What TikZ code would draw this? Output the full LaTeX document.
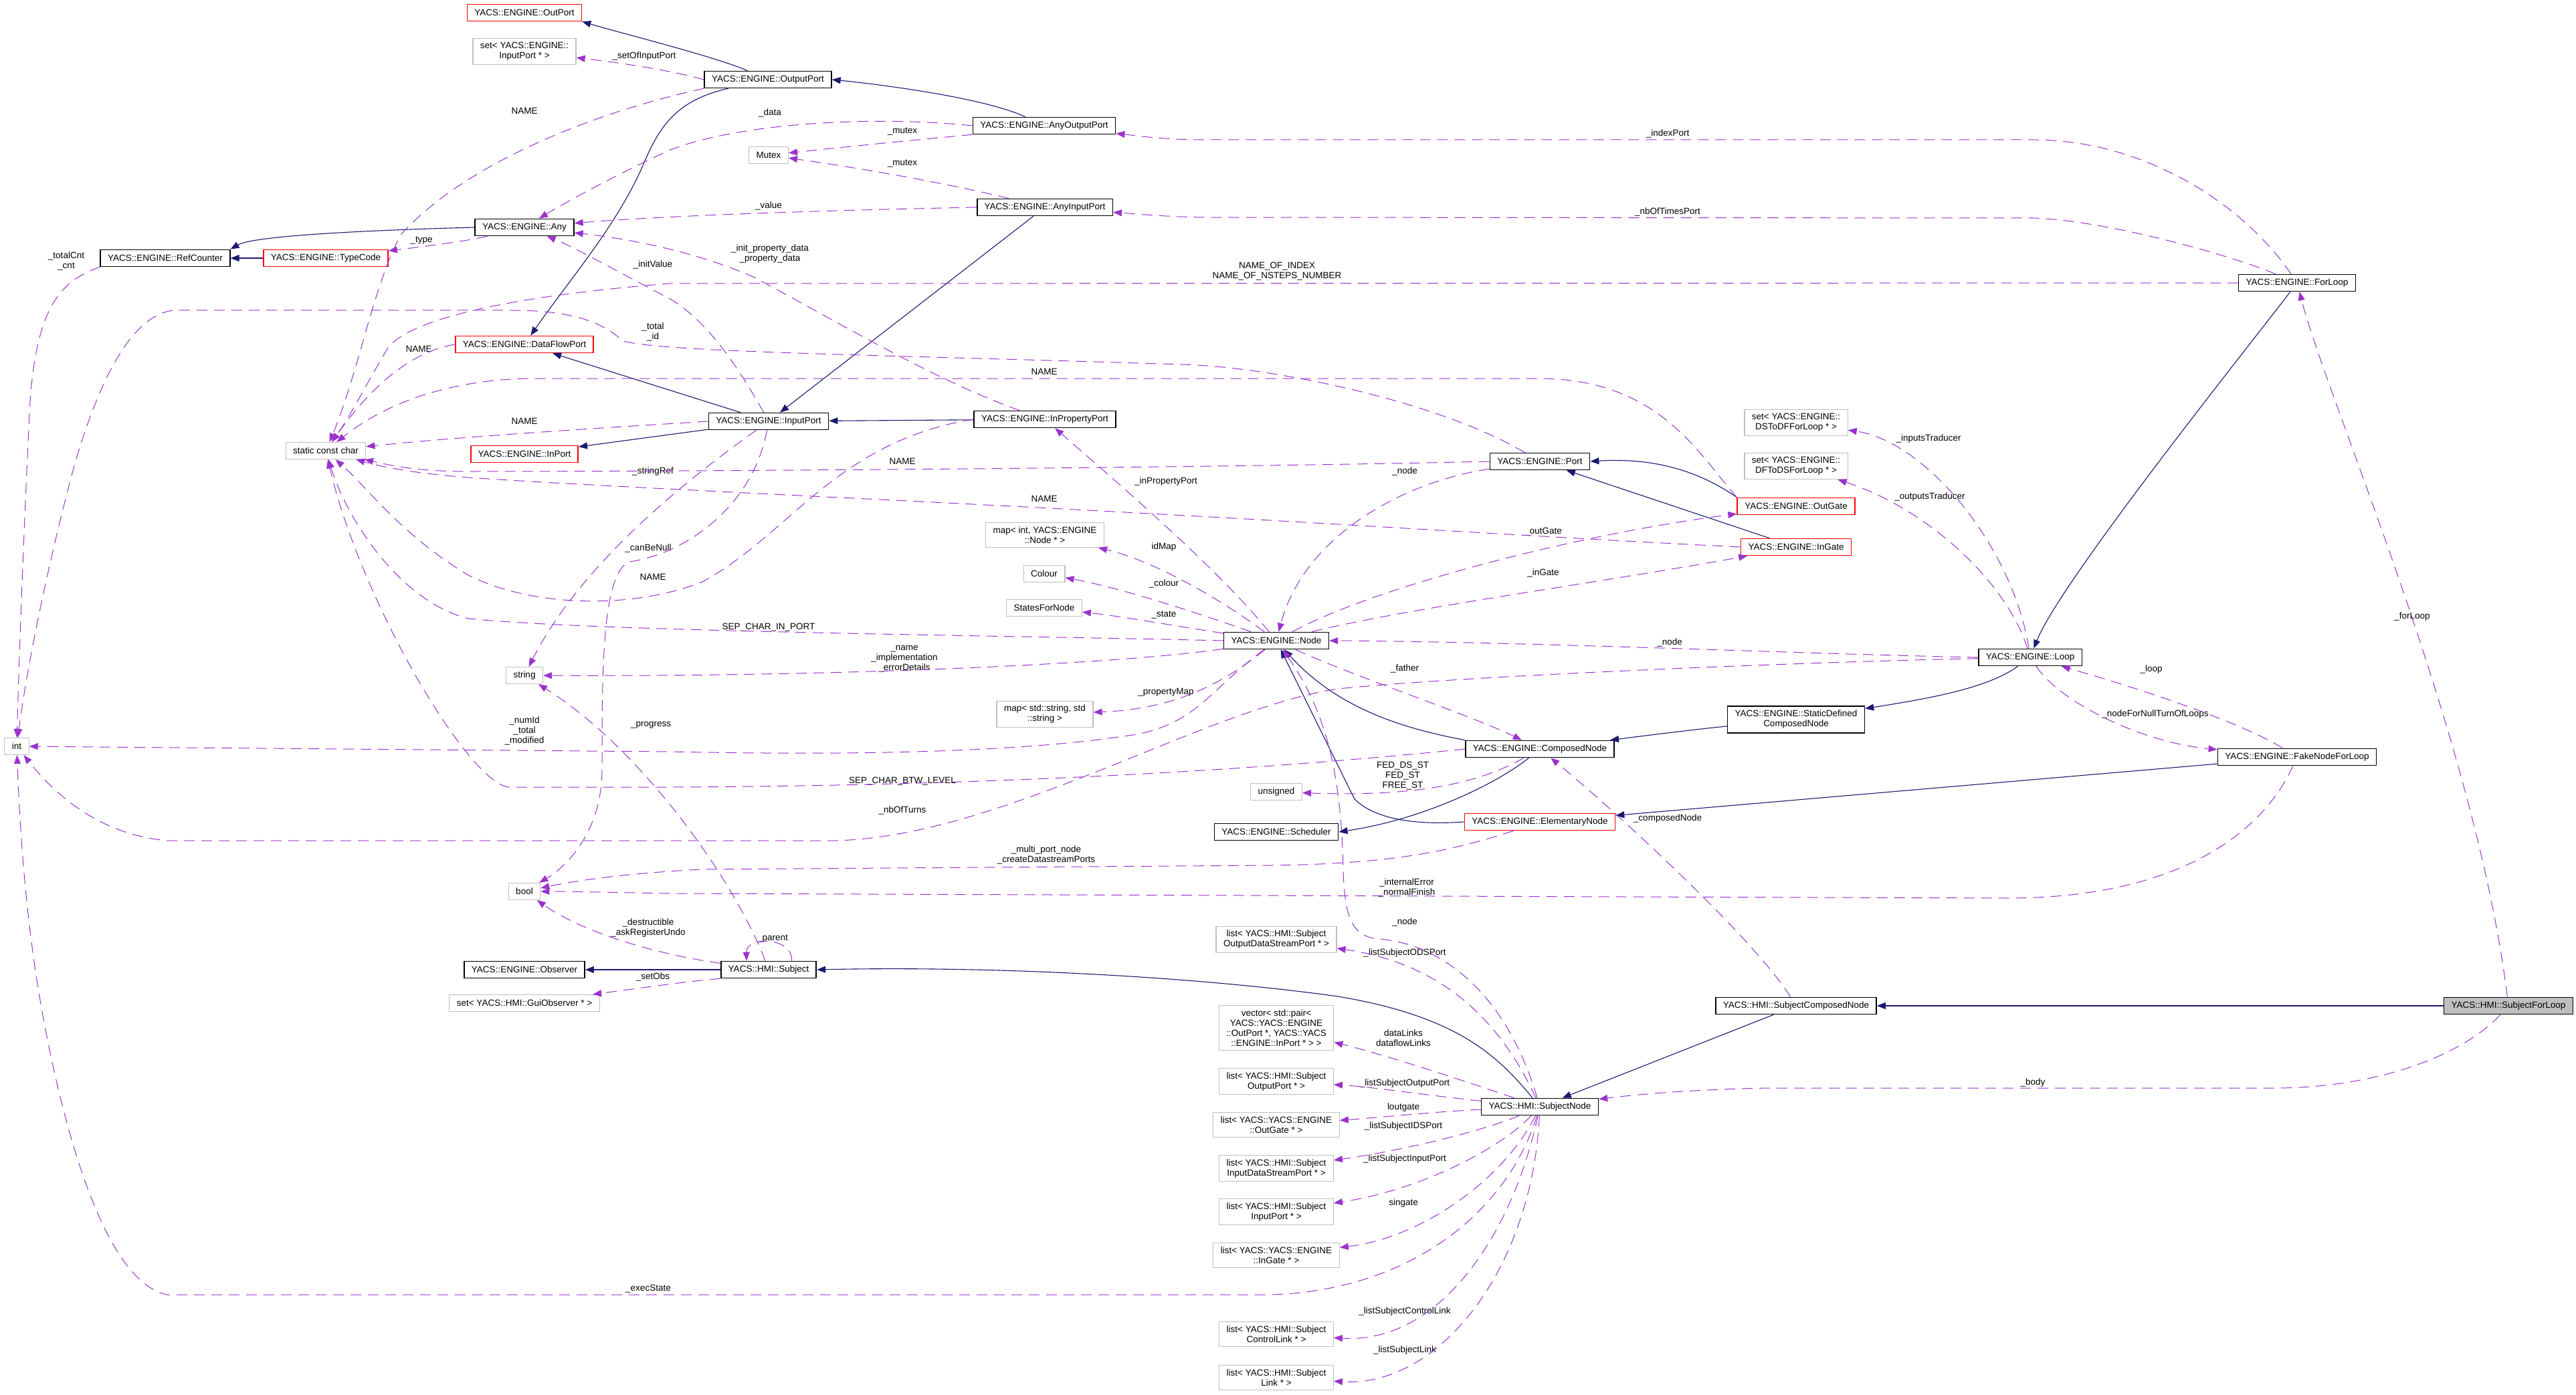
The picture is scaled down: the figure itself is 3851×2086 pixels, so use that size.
\documentclass[tikz,border=0pt]{standalone}
\usepackage{fontspec}
\setmainfont{Liberation Sans}
\usetikzlibrary{arrows.meta}
\definecolor{navyline}{HTML}{191970}
\definecolor{usepurple}{HTML}{9A32CD}
\definecolor{graybox}{HTML}{BFBFBF}
\begin{document}
\begin{tikzpicture}[x=0.5pt, y=-0.5pt,
  every node/.style={font=\fontsize{6.75}{7.5}\selectfont, align=center},
  clsbox/.style={draw=black, line width=0.8pt, inner xsep=5.5pt, inner ysep=3pt, minimum height=12.5pt},
  redbox/.style={clsbox, draw=red},
  extbox/.style={clsbox, draw=graybox, line width=0.6pt},
  selbox/.style={clsbox, fill=graybox},
  edgelbl/.style={inner sep=0pt},
  inhline/.style={draw=navyline, line width=0.55pt, -{Triangle[length=6.5pt, width=5pt]}},
  useline/.style={draw=usepurple, line width=0.5pt, dash pattern=on 8pt off 5pt, -{Triangle[length=6.5pt, width=5pt]}}]
  \useasboundingbox (0,0) rectangle (3851,2086);

  \node[extbox] (tInt) at (25,1116) {int};
  \node[clsbox] (RefCounter) at (247,386) {YACS::ENGINE::RefCounter};
  \node[redbox] (TypeCode) at (487,386) {YACS::ENGINE::TypeCode};
  \node[extbox] (tSconst) at (487,674) {static const char};
  \node[redbox] (OutPort) at (784,19) {YACS::ENGINE::OutPort};
  \node[extbox] (setInputPort) at (784,77) {set< YACS::ENGINE::\\InputPort * >};
  \node[clsbox] (Any) at (784,340) {YACS::ENGINE::Any};
  \node[redbox] (DataFlowPort) at (784,515) {YACS::ENGINE::DataFlowPort};
  \node[redbox] (InPort) at (784,679) {YACS::ENGINE::InPort};
  \node[extbox] (tString) at (784,1010) {string};
  \node[extbox] (tBool) at (784,1333) {bool};
  \node[clsbox] (Observer) at (784,1450) {YACS::ENGINE::Observer};
  \node[extbox] (setGuiObserver) at (784,1500) {set< YACS::HMI::GuiObserver * >};
  \node[clsbox] (OutputPort) at (1148,119) {YACS::ENGINE::OutputPort};
  \node[extbox] (tMutex) at (1149,232) {Mutex};
  \node[clsbox] (InputPort) at (1149,630) {YACS::ENGINE::InputPort};
  \node[clsbox] (Subject) at (1149,1450) {YACS::HMI::Subject};
  \node[clsbox] (AnyOutputPort) at (1561,188) {YACS::ENGINE::AnyOutputPort};
  \node[clsbox] (AnyInputPort) at (1562,310) {YACS::ENGINE::AnyInputPort};
  \node[clsbox] (InPropertyPort) at (1562,627) {YACS::ENGINE::InPropertyPort};
  \node[extbox] (mapIdNode) at (1562,800) {map< int, YACS::ENGINE\\::Node * >};
  \node[extbox] (tColour) at (1561,858) {Colour};
  \node[extbox] (tStates) at (1561,909) {StatesForNode};
  \node[extbox] (mapProps) at (1562,1068) {map< std::string, std\\::string >};
  \node[clsbox] (Node) at (1908,958) {YACS::ENGINE::Node};
  \node[extbox] (tUnsigned) at (1908,1184) {unsigned};
  \node[clsbox] (Scheduler) at (1908,1244) {YACS::ENGINE::Scheduler};
  \node[extbox] (listODSPort) at (1908,1405) {list< YACS::HMI::Subject\\OutputDataStreamPort * >};
  \node[extbox] (vecLinks) at (1908,1537) {vector< std::pair<\\YACS::YACS::ENGINE\\::OutPort *, YACS::YACS\\::ENGINE::InPort * > >};
  \node[extbox] (listOPort) at (1908,1617) {list< YACS::HMI::Subject\\OutputPort * >};
  \node[extbox] (listOGate) at (1908,1682) {list< YACS::YACS::ENGINE\\::OutGate * >};
  \node[extbox] (listIDSPort) at (1908,1747) {list< YACS::HMI::Subject\\InputDataStreamPort * >};
  \node[extbox] (listIPort) at (1908,1812) {list< YACS::HMI::Subject\\InputPort * >};
  \node[extbox] (listIGate) at (1908,1877) {list< YACS::YACS::ENGINE\\::InGate * >};
  \node[extbox] (listCLink) at (1908,1995) {list< YACS::HMI::Subject\\ControlLink * >};
  \node[extbox] (listLink) at (1908,2060) {list< YACS::HMI::Subject\\Link * >};
  \node[clsbox] (Port) at (2302,690) {YACS::ENGINE::Port};
  \node[clsbox] (ComposedNode) at (2302,1120) {YACS::ENGINE::ComposedNode};
  \node[redbox] (ElementaryNode) at (2302,1229) {YACS::ENGINE::ElementaryNode};
  \node[clsbox] (SubjectNode) at (2302,1655) {YACS::HMI::SubjectNode};
  \node[extbox] (setDSToDF) at (2685,632) {set< YACS::ENGINE::\\DSToDFForLoop * >};
  \node[extbox] (setDFToDS) at (2685,697) {set< YACS::ENGINE::\\DFToDSForLoop * >};
  \node[redbox] (OutGate) at (2685,757) {YACS::ENGINE::OutGate};
  \node[redbox] (InGate) at (2685,818) {YACS::ENGINE::InGate};
  \node[clsbox] (StaticComposed) at (2685,1076) {YACS::ENGINE::StaticDefined\\ComposedNode};
  \node[clsbox] (SubjectComposedNode) at (2685,1504) {YACS::HMI::SubjectComposedNode};
  \node[clsbox] (Loop) at (3035,983) {YACS::ENGINE::Loop};
  \node[clsbox] (ForLoop) at (3434,423) {YACS::ENGINE::ForLoop};
  \node[clsbox] (FakeNode) at (3434,1132) {YACS::ENGINE::FakeNodeForLoop};
  \node[selbox] (SubjectForLoop) at (3750,1504) {YACS::HMI::SubjectForLoop};

  \node[edgelbl] (lSetOfInputPort) at (963,84) {\_setOfInputPort};
  \node[edgelbl] (lNameOutput) at (784,166) {NAME};
  \node[edgelbl] (lData) at (1151,169) {\_data};
  \node[edgelbl] (lMutexOut) at (1349,196) {\_mutex};
  \node[edgelbl] (lMutexIn) at (1349,244) {\_mutex};
  \node[edgelbl] (lValue) at (1149,308) {\_value};
  \node[edgelbl] (lType) at (630,360) {\_type};
  \node[edgelbl] (lCnt) at (99,390) {\_totalCnt\\\_cnt};
  \node[edgelbl] (lInitValue) at (976,396) {\_initValue};
  \node[edgelbl] (lPropData) at (1151,380) {\_init\_property\_data\\\_property\_data};
  \node[edgelbl] (lNameDataFlow) at (626,522) {NAME};
  \node[edgelbl] (lNameInput) at (784,630) {NAME};
  \node[edgelbl] (lNamePort) at (1349,690) {NAME};
  \node[edgelbl] (lNameInGate) at (1561,746) {NAME};
  \node[edgelbl] (lNameOutGate) at (1561,556) {NAME};
  \node[edgelbl] (lTotalId) at (976,496) {\_total\\\_id};
  \node[edgelbl] (lNameOfIndex) at (1909,406) {NAME\_OF\_INDEX\\NAME\_OF\_NSTEPS\_NUMBER};
  \node[edgelbl] (lIndexPort) at (2493,200) {\_indexPort};
  \node[edgelbl] (lNbOfTimesPort) at (2493,317) {\_nbOfTimesPort};
  \node[edgelbl] (lForLoop) at (3606,922) {\_forLoop};
  \node[edgelbl] (lBody) at (3039,1619) {\_body};
  \node[edgelbl] (lNodeLoop) at (2496,961) {\_node};
  \node[edgelbl] (lNbOfTurns) at (1349,1212) {\_nbOfTurns};
  \node[edgelbl] (lInputsTraducer) at (2883,656) {\_inputsTraducer};
  \node[edgelbl] (lOutputsTraducer) at (2885,743) {\_outputsTraducer};
  \node[edgelbl] (lNullTurn) at (3222,1068) {\_nodeForNullTurnOfLoops};
  \node[edgelbl] (lLoop) at (3216,1001) {\_loop};
  \node[edgelbl] (lFinish) at (2103,1327) {\_internalError\\\_normalFinish};
  \node[edgelbl] (lMultiPort) at (1564,1278) {\_multi\_port\_node\\\_createDatastreamPorts};
  \node[edgelbl] (lIdMap) at (1740,818) {idMap};
  \node[edgelbl] (lColour) at (1740,873) {\_colour};
  \node[edgelbl] (lState) at (1740,919) {\_state};
  \node[edgelbl] (lSepInPort) at (1149,938) {SEP\_CHAR\_IN\_PORT};
  \node[edgelbl] (lNames) at (1352,985) {\_name\\\_implementation\\\_errorDetails};
  \node[edgelbl] (lPropertyMap) at (1743,1035) {\_propertyMap};
  \node[edgelbl] (lNumId) at (784,1093) {\_numId\\\_total\\\_modified};
  \node[edgelbl] (lInPropertyPort) at (1743,720) {\_inPropertyPort};
  \node[edgelbl] (lNodePort) at (2100,705) {\_node};
  \node[edgelbl] (lOutGate) at (2307,795) {\_outGate};
  \node[edgelbl] (lInGate) at (2307,857) {\_inGate};
  \node[edgelbl] (lFather) at (2100,1000) {\_father};
  \node[edgelbl] (lSepBtwLevel) at (1349,1168) {SEP\_CHAR\_BTW\_LEVEL};
  \node[edgelbl] (lStates) at (2097,1160) {FED\_DS\_ST\\FED\_ST\\FREE\_ST};
  \node[edgelbl] (lComposedNode) at (2493,1224) {\_composedNode};
  \node[edgelbl] (lNodeSubject) at (2100,1379) {\_node};
  \node[edgelbl] (lProgress) at (973,1084) {\_progress};
  \node[edgelbl] (lUndo) at (969,1388) {\_destructible\\\_askRegisterUndo};
  \node[edgelbl] (lSetObs) at (976,1461) {\_setObs};
  \node[edgelbl] (lParent) at (1155,1404) {\_parent};
  \node[edgelbl] (lODSPort) at (2100,1425) {\_listSubjectODSPort};
  \node[edgelbl] (lDataLinks) at (2098,1552) {dataLinks\\dataflowLinks};
  \node[edgelbl] (lOPort) at (2100,1620) {\_listSubjectOutputPort};
  \node[edgelbl] (lOutgateList) at (2098,1656) {loutgate};
  \node[edgelbl] (lIDSPort) at (2098,1684) {\_listSubjectIDSPort};
  \node[edgelbl] (lIPort) at (2100,1733) {\_listSubjectInputPort};
  \node[edgelbl] (lIngateList) at (2098,1799) {singate};
  \node[edgelbl] (lExecState) at (969,1927) {\_execState};
  \node[edgelbl] (lCLink) at (2100,1961) {\_listSubjectControlLink};
  \node[edgelbl] (lLink) at (2100,2019) {\_listSubjectLink};
  \node[edgelbl] (lStringRef) at (976,705) {\_stringRef};
  \node[edgelbl] (lCanBeNull) at (969,820) {\_canBeNull};
  \node[edgelbl] (lNameProp) at (976,863) {NAME};

  \draw[inhline] (OutputPort) .. controls (1070,85) and (930,50) .. (OutPort.south east);
  \draw[inhline] (OutputPort) .. controls (1010,150) and (985,190) .. (960,250) .. controls (920,340) and (850,420) .. (DataFlowPort);
  \draw[inhline] (AnyOutputPort) .. controls (1480,150) and (1350,130) .. (OutputPort.east);
  \draw[inhline] (Any.west) .. controls (560,344) and (380,352) .. (RefCounter.north east);
  \draw[inhline] (TypeCode) -- (RefCounter);
  \draw[inhline] (AnyInputPort) -- (InputPort);
  \draw[inhline] (InputPort) -- (DataFlowPort);
  \draw[inhline] (InputPort) -- (InPort);
  \draw[inhline] (InPropertyPort) -- (InputPort);
  \draw[inhline] (OutGate.north west) .. controls (2555,715) and (2490,683) .. (Port.east);
  \draw[inhline] (InGate) -- (Port);
  \draw[inhline] (ForLoop) .. controls (3360,520) and (3080,870) .. (Loop);
  \draw[inhline] (Loop) .. controls (2970,1030) and (2880,1045) .. (StaticComposed);
  \draw[inhline] (StaticComposed) .. controls (2540,1090) and (2460,1100) .. (ComposedNode);
  \draw[inhline] (ComposedNode.north west) .. controls (2100,1090) and (2000,1060) .. (Node);
  \draw[inhline] (ElementaryNode.west) .. controls (2090,1236) and (2045,1215) .. (2025,1195) -- (Node);
  \draw[inhline] (ComposedNode) .. controls (2240,1170) and (2130,1225) .. (Scheduler.east);
  \draw[inhline] (FakeNode) -- (ElementaryNode);
  \draw[inhline] (Subject) -- (Observer);
  \draw[inhline] (SubjectNode) .. controls (2240,1580) and (2180,1520) .. (2000,1490) .. controls (1800,1462) and (1500,1444) .. (Subject.east);
  \draw[inhline] (SubjectComposedNode) -- (SubjectNode);
  \draw[inhline] (SubjectForLoop) -- (SubjectComposedNode);

  \draw[useline] (OutputPort.west) .. controls (990,102) and (910,92) .. (setInputPort);
  \draw[useline] (OutputPort.south west) .. controls (900,165) and (700,240) .. (600,350) .. controls (560,420) and (535,560) .. (tSconst);
  \draw[useline] (AnyOutputPort.west) .. controls (1300,172) and (1100,185) .. (1000,225) .. controls (920,262) and (850,300) .. (Any);
  \draw[useline] (AnyOutputPort.south west) .. controls (1380,208) and (1260,220) .. (tMutex);
  \draw[useline] (AnyInputPort) .. controls (1420,275) and (1290,252) .. (tMutex);
  \draw[useline] (AnyInputPort.west) .. controls (1250,314) and (1000,322) .. (Any);
  \draw[useline] (Any) .. controls (700,360) and (640,368) .. (TypeCode);
  \draw[useline] (RefCounter.south west) .. controls (90,420) and (55,460) .. (45,600) .. controls (35,800) and (28,1000) .. (tInt);
  \draw[useline] (InputPort) .. controls (1110,560) and (1060,480) .. (1000,446) .. controls (930,410) and (860,370) .. (Any);
  \draw[useline] (InPropertyPort) .. controls (1400,570) and (1250,480) .. (1128,415) .. controls (1050,380) and (950,358) .. (Any);
  \draw[useline] (DataFlowPort.west) .. controls (620,525) and (560,570) .. (tSconst);
  \draw[useline] (InputPort.west) .. controls (900,640) and (700,652) .. (tSconst);
  \draw[useline] (Port.west) .. controls (1800,700) and (1000,705) .. (700,705) .. controls (620,705) and (580,695) .. (tSconst);
  \draw[useline] (InGate.west) .. controls (2300,803) and (2000,783) .. (1700,767) .. controls (1300,745) and (900,728) .. (700,714) .. controls (620,708) and (570,698) .. (tSconst);
  \draw[useline] (OutGate.north west) .. controls (2540,680) and (2480,566) .. (2300,566) -- (800,566) .. controls (680,566) and (580,600) .. (tSconst);
  \draw[useline] (Port) .. controls (2150,600) and (1900,548) .. (1765,545) .. controls (1300,530) and (1000,527) .. (931,510) .. controls (900,480) and (850,464) .. (765,464) -- (260,464) .. controls (200,470) and (150,560) .. (110,700) .. controls (70,850) and (40,1000) .. (tInt);
  \draw[useline] (ForLoop.west) -- (1000,424) .. controls (800,440) and (620,470) .. (580,520) .. controls (550,570) and (525,620) .. (tSconst);
  \draw[useline] (ForLoop) .. controls (3350,300) and (3200,209) .. (3040,209) -- (1800,209) .. controls (1740,209) and (1700,203) .. (AnyOutputPort);
  \draw[useline] (ForLoop) .. controls (3330,380) and (3150,330) .. (3040,326) -- (1800,325) .. controls (1740,324) and (1700,320) .. (AnyInputPort);
  \draw[useline] (SubjectForLoop) .. controls (3700,1100) and (3480,600) .. (ForLoop);
  \draw[useline] (SubjectForLoop) .. controls (3680,1580) and (3550,1627) .. (3400,1627) -- (2650,1627) .. controls (2550,1628) and (2450,1636) .. (SubjectNode);
  \draw[useline] (Loop.west) .. controls (2700,978) and (2300,960) .. (Node.east);
  \draw[useline] (Loop) .. controls (2700,990) and (2200,1010) .. (2000,1030) .. controls (1800,1060) and (1500,1250) .. (1250,1257) -- (250,1257) .. controls (170,1250) and (100,1210) .. (tInt);
  \draw[useline] (Loop) .. controls (3010,820) and (2880,660) .. (setDSToDF);
  \draw[useline] (Loop) .. controls (3000,870) and (2880,760) .. (setDFToDS);
  \draw[useline] (Loop) .. controls (3080,1050) and (3200,1110) .. (FakeNode);
  \draw[useline] (FakeNode) .. controls (3350,1080) and (3200,1030) .. (Loop);
  \draw[useline] (FakeNode) .. controls (3380,1250) and (3250,1343) .. (3000,1343) -- (1000,1336) .. controls (900,1334) and (850,1333) .. (tBool);
  \draw[useline] (ElementaryNode) .. controls (2150,1280) and (2050,1292) .. (1900,1294) -- (1050,1300) .. controls (950,1305) and (870,1315) .. (tBool);
  \draw[useline] (Node) .. controls (1830,900) and (1730,840) .. (mapIdNode);
  \draw[useline] (Node) .. controls (1800,920) and (1680,880) .. (tColour);
  \draw[useline] (Node) .. controls (1780,940) and (1680,922) .. (tStates);
  \draw[useline] (Node.west) .. controls (1500,950) and (900,945) .. (700,925) .. controls (600,900) and (520,780) .. (tSconst);
  \draw[useline] (Node) .. controls (1700,990) and (1300,1012) .. (tString);
  \draw[useline] (Node) .. controls (1830,1020) and (1760,1060) .. (mapProps);
  \draw[useline] (Node) .. controls (1810,1030) and (1790,1080) .. (1700,1098) .. controls (1500,1130) and (1200,1128) .. (1000,1124) -- (tInt);
  \draw[useline] (Node) .. controls (1820,850) and (1680,730) .. (InPropertyPort);
  \draw[useline] (Port) .. controls (2100,720) and (1950,800) .. (Node);
  \draw[useline] (Node) .. controls (2050,880) and (2350,800) .. (OutGate);
  \draw[useline] (Node) .. controls (2100,910) and (2400,870) .. (InGate);
  \draw[useline] (Node) .. controls (2020,1010) and (2200,1070) .. (ComposedNode);
  \draw[useline] (ComposedNode.west) .. controls (1900,1150) and (1500,1175) .. (1000,1177) -- (760,1177) .. controls (700,1170) and (540,900) .. (tSconst);
  \draw[useline] (ComposedNode) .. controls (2230,1160) and (2150,1193) .. (tUnsigned);
  \draw[useline] (SubjectComposedNode) .. controls (2620,1400) and (2400,1200) .. (ComposedNode);
  \draw[useline] (SubjectNode) .. controls (2250,1480) and (2150,1410) .. (2060,1404) .. controls (2020,1400) and (2010,1370) .. (2008,1300) .. controls (2005,1150) and (1980,1060) .. (Node);
  \draw[useline] (Subject) .. controls (1100,1320) and (960,1120) .. (tString);
  \draw[useline] (Subject) .. controls (1000,1430) and (880,1400) .. (tBool);
  \draw[useline] (Subject.south west) .. controls (1020,1468) and (940,1480) .. (setGuiObserver);
  \draw[useline] (Subject.21) .. controls (1185,1400) and (1115,1400) .. (Subject.158);
  \draw[useline] (SubjectNode) .. controls (2240,1520) and (2150,1440) .. (listODSPort);
  \draw[useline] (SubjectNode) .. controls (2200,1620) and (2080,1580) .. (vecLinks);
  \draw[useline] (SubjectNode) .. controls (2150,1640) and (2050,1625) .. (listOPort);
  \draw[useline] (SubjectNode) .. controls (2150,1662) and (2050,1672) .. (listOGate);
  \draw[useline] (SubjectNode) .. controls (2220,1690) and (2100,1720) .. (listIDSPort);
  \draw[useline] (SubjectNode) .. controls (2240,1720) and (2120,1780) .. (listIPort);
  \draw[useline] (SubjectNode) .. controls (2250,1760) and (2130,1850) .. (listIGate);
  \draw[useline] (SubjectNode) .. controls (2250,1820) and (2100,1930) .. (1900,1936) -- (250,1936) .. controls (170,1920) and (110,1750) .. (70,1550) .. controls (40,1400) and (30,1250) .. (tInt);
  \draw[useline] (SubjectNode) .. controls (2260,1850) and (2150,2010) .. (listCLink);
  \draw[useline] (SubjectNode) .. controls (2290,1900) and (2150,2075) .. (listLink);
  \draw[useline] (InputPort) .. controls (1080,680) and (880,820) .. (tString);
  \draw[useline] (InputPort) .. controls (1125,760) and (1020,830) .. (940,840) .. controls (900,860) and (900,1000) .. (900,1150) .. controls (900,1250) and (840,1300) .. (tBool);
  \draw[useline] (InPropertyPort.west) .. controls (1250,660) and (1180,800) .. (1050,870) .. controls (950,910) and (800,910) .. (700,860) .. controls (600,800) and (550,730) .. (tSconst);
\end{tikzpicture}
\end{document}
